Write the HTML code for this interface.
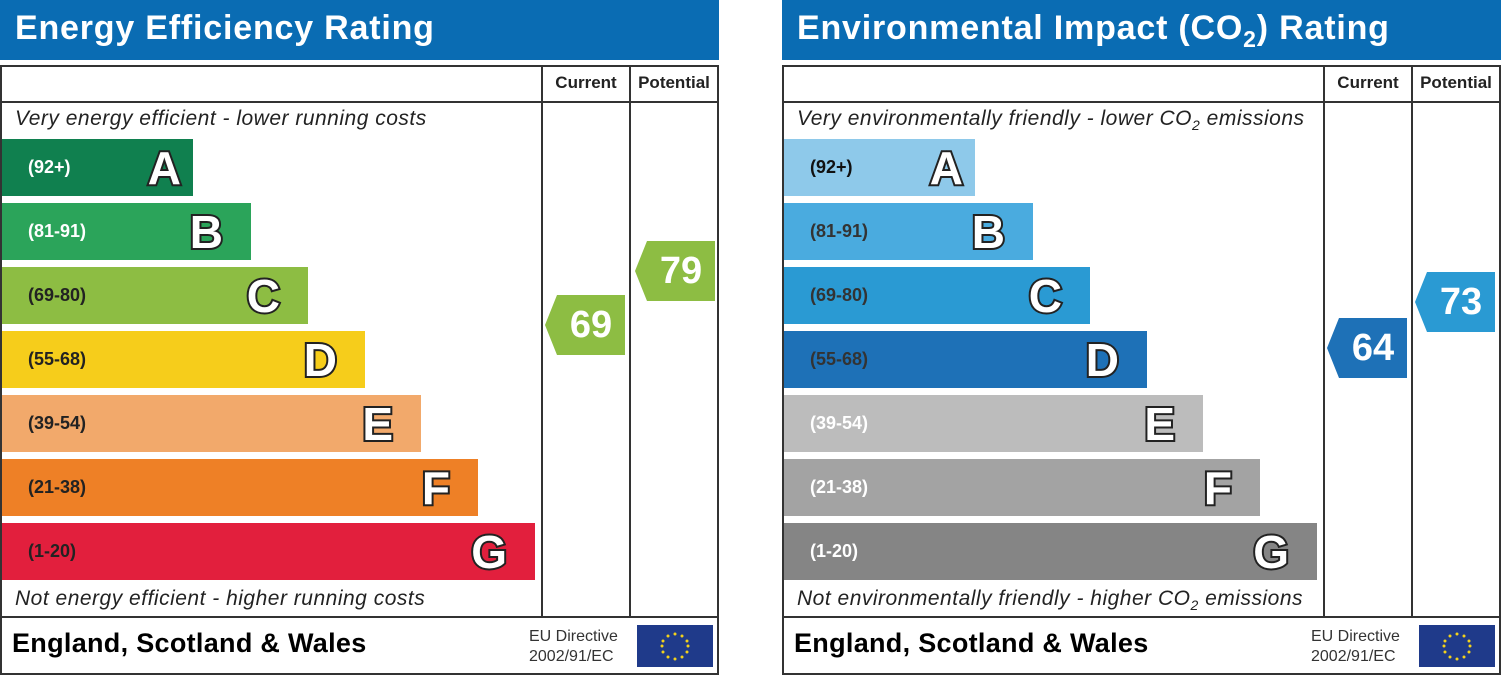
<!DOCTYPE html>
<html><head><meta charset="utf-8"><style>
*{margin:0;padding:0;box-sizing:border-box}
body{width:1501px;height:675px;background:#fff;position:relative;overflow:hidden;font-family:"Liberation Sans",sans-serif}
.a{position:absolute}
.hdr{background:#0a6cb3;color:#fff;font-weight:bold;font-size:34px;height:60px;padding:9px 0 0 15px;letter-spacing:0.8px;white-space:nowrap}
.box{border:2px solid #333;top:65px;height:610px;width:719px}
.vl{width:2px;background:#333}
.hl{height:2px;background:#333}
.colh{font-weight:bold;font-size:17px;color:#222;text-align:center;top:73px}
.it{font-style:italic;font-size:21px;color:#222;white-space:nowrap;letter-spacing:0.5px}
.bar{height:57px;left:2px}
.rng{position:absolute;left:26px;top:18px;font-size:18px;font-weight:bold}
.let{position:absolute;right:28px;top:2px;font-size:46px;font-weight:bold;color:#fff;-webkit-text-stroke:4px #222;paint-order:stroke fill}
.let.fa{right:12px}
.arr{width:80px;height:60px;color:#fff;font-weight:bold;font-size:38px;text-align:center;line-height:60px;padding-left:12px;clip-path:polygon(12px 0,100% 0,100% 100%,12px 100%,0 50%)}
.esw{font-weight:bold;font-size:27px;color:#000;white-space:nowrap;letter-spacing:0.3px}
.eu{font-size:16px;color:#333;line-height:20px}
.flag{width:76px;height:42px;background:#1f3a8a}
</style></head><body>

<!-- LEFT -->
<div class="a hdr" style="left:0;top:0;width:719px">Energy Efficiency Rating</div>
<div class="a box" style="left:0"></div>
<div class="a hl" style="left:0;top:101px;width:719px"></div>
<div class="a hl" style="left:0;top:616px;width:719px"></div>
<div class="a vl" style="left:541px;top:65px;height:552px"></div>
<div class="a vl" style="left:629px;top:65px;height:552px"></div>
<div class="a colh" style="left:543px;width:86px">Current</div>
<div class="a colh" style="left:631px;width:86px">Potential</div>
<div class="a it" style="left:15px;top:107px">Very energy efficient - lower running costs</div>
<div class="a it" style="left:15px;top:587px">Not energy efficient - higher running costs</div>
<div class="a bar" style="top:139px;width:191px;background:#10804f"><span class="rng" style="color:#fff">(92+)</span><span class="let fa">A</span></div>
<div class="a bar" style="top:203px;width:249px;background:#2ba45a"><span class="rng" style="color:#fff">(81-91)</span><span class="let">B</span></div>
<div class="a bar" style="top:267px;width:306px;background:#8dbd43"><span class="rng" style="color:#222">(69-80)</span><span class="let">C</span></div>
<div class="a bar" style="top:331px;width:363px;background:#f6cd1b"><span class="rng" style="color:#222">(55-68)</span><span class="let">D</span></div>
<div class="a bar" style="top:395px;width:419px;background:#f2a96b"><span class="rng" style="color:#222">(39-54)</span><span class="let">E</span></div>
<div class="a bar" style="top:459px;width:476px;background:#ee8026"><span class="rng" style="color:#222">(21-38)</span><span class="let">F</span></div>
<div class="a bar" style="top:523px;width:533px;background:#e21f3d"><span class="rng" style="color:#222">(1-20)</span><span class="let">G</span></div>
<div class="a arr" style="left:545px;top:295px;background:#8dbd43">69</div>
<div class="a arr" style="left:635px;top:241px;background:#8dbd43">79</div>
<div class="a esw" style="left:12px;top:628px">England, Scotland &amp; Wales</div>
<div class="a eu" style="left:529px;top:627px">EU Directive<br>2002/91/EC</div>
<div class="a flag" style="left:637px;top:625px"><svg width="76" height="42"><g fill="#f3d21b"><circle cx="38" cy="9" r="1.5"/><circle cx="45" cy="11" r="1.5"/><circle cx="50" cy="16" r="1.5"/><circle cx="51" cy="21" r="1.5"/><circle cx="50" cy="27" r="1.5"/><circle cx="45" cy="32" r="1.5"/><circle cx="38" cy="34" r="1.5"/><circle cx="31" cy="32" r="1.5"/><circle cx="26" cy="27" r="1.5"/><circle cx="25" cy="21" r="1.5"/><circle cx="26" cy="16" r="1.5"/><circle cx="31" cy="11" r="1.5"/></g></svg></div>

<!-- RIGHT -->
<div class="a hdr" style="left:782px;top:0;width:719px">Environmental Impact (CO<sub style="font-size:23px">2</sub>) Rating</div>
<div class="a box" style="left:782px"></div>
<div class="a hl" style="left:782px;top:101px;width:719px"></div>
<div class="a hl" style="left:782px;top:616px;width:719px"></div>
<div class="a vl" style="left:1323px;top:65px;height:552px"></div>
<div class="a vl" style="left:1411px;top:65px;height:552px"></div>
<div class="a colh" style="left:1325px;width:86px">Current</div>
<div class="a colh" style="left:1413px;width:86px">Potential</div>
<div class="a it" style="left:797px;top:107px">Very environmentally friendly - lower CO<sub style="font-size:14px">2</sub> emissions</div>
<div class="a it" style="left:797px;top:587px">Not environmentally friendly - higher CO<sub style="font-size:14px">2</sub> emissions</div>
<div class="a bar" style="left:784px;top:139px;width:191px;background:#8ec9ea"><span class="rng" style="color:#111">(92+)</span><span class="let fa">A</span></div>
<div class="a bar" style="left:784px;top:203px;width:249px;background:#4aabdf"><span class="rng" style="color:#333">(81-91)</span><span class="let">B</span></div>
<div class="a bar" style="left:784px;top:267px;width:306px;background:#2a9ad3"><span class="rng" style="color:#333">(69-80)</span><span class="let">C</span></div>
<div class="a bar" style="left:784px;top:331px;width:363px;background:#1e71b7"><span class="rng" style="color:#333">(55-68)</span><span class="let">D</span></div>
<div class="a bar" style="left:784px;top:395px;width:419px;background:#bcbcbc"><span class="rng" style="color:#fff">(39-54)</span><span class="let">E</span></div>
<div class="a bar" style="left:784px;top:459px;width:476px;background:#a3a3a3"><span class="rng" style="color:#fff">(21-38)</span><span class="let">F</span></div>
<div class="a bar" style="left:784px;top:523px;width:533px;background:#858585"><span class="rng" style="color:#fff">(1-20)</span><span class="let">G</span></div>
<div class="a arr" style="left:1327px;top:318px;background:#1e71b7">64</div>
<div class="a arr" style="left:1415px;top:272px;background:#2a9ad3">73</div>
<div class="a esw" style="left:794px;top:628px">England, Scotland &amp; Wales</div>
<div class="a eu" style="left:1311px;top:627px">EU Directive<br>2002/91/EC</div>
<div class="a flag" style="left:1419px;top:625px"><svg width="76" height="42"><g fill="#f3d21b"><circle cx="38" cy="9" r="1.5"/><circle cx="45" cy="11" r="1.5"/><circle cx="50" cy="16" r="1.5"/><circle cx="51" cy="21" r="1.5"/><circle cx="50" cy="27" r="1.5"/><circle cx="45" cy="32" r="1.5"/><circle cx="38" cy="34" r="1.5"/><circle cx="31" cy="32" r="1.5"/><circle cx="26" cy="27" r="1.5"/><circle cx="25" cy="21" r="1.5"/><circle cx="26" cy="16" r="1.5"/><circle cx="31" cy="11" r="1.5"/></g></svg></div>
</body></html>
